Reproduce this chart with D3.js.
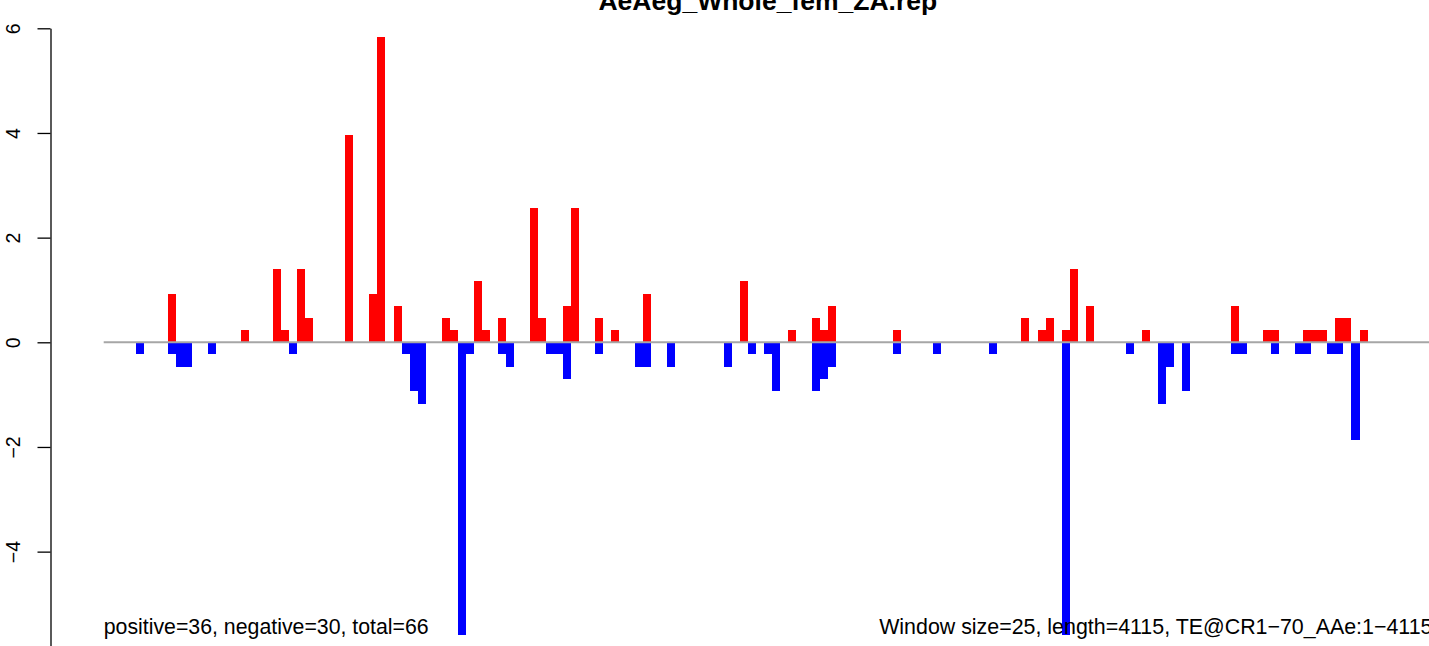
<!DOCTYPE html>
<html>
<head>
<meta charset="utf-8">
<script src="https://cdn.jsdelivr.net/npm/d3@7"></script>
<style>
  html, body { margin: 0; padding: 0; background: #fff; }
  svg { display: block; }
  text { font-family: "Liberation Sans", Arial, Helvetica, sans-serif; fill: #000; }
</style>
</head>
<body>
<svg id="chart" width="1429" height="646"></svg>
<script>
// ---- data ----
const title = "AeAeg_Whole_fem_ZA.rep";
const windowCount = 165;            // 4115 / 25
const yTicks = [-6, -4, -2, 0, 2, 4, 6];

// positive (red) windows: window index and value
const posIndex = [8, 17, 21, 22, 24, 25, 30, 33, 34, 36, 42, 43, 46, 47, 49, 53, 54, 57, 58, 61, 63, 67, 79, 85,
                  88, 89, 90, 98, 114, 116, 117, 119, 120, 122, 129, 140, 144, 145, 149, 150, 151, 153, 154, 156];
const posValue = [0.93, 0.23, 1.40, 0.23, 1.40, 0.47, 3.97, 0.93, 5.84, 0.70, 0.47, 0.23, 1.17, 0.23, 0.47, 2.57, 0.47, 0.70, 2.57, 0.47, 0.23, 0.93, 1.17, 0.23,
                  0.47, 0.23, 0.70, 0.23, 0.47, 0.23, 0.47, 0.23, 1.40, 0.70, 0.23, 0.70, 0.23, 0.23, 0.23, 0.23, 0.23, 0.47, 0.47, 0.23];

// negative (blue) windows: window index and value
const negIndex = [4, 8, 9, 10, 13, 23, 37, 38, 39, 44, 45, 49, 50, 55, 56, 57, 61, 66, 67, 70, 77, 80, 82, 83,
                  88, 89, 90, 98, 103, 110, 119, 127, 131, 132, 134, 140, 141, 145, 148, 149, 152, 153, 155];
const negValue = [-0.23, -0.23, -0.47, -0.47, -0.23, -0.23, -0.23, -0.93, -1.17, -5.60, -0.23, -0.23, -0.47, -0.23, -0.23, -0.70, -0.23, -0.47, -0.47, -0.47, -0.47, -0.23, -0.23, -0.93,
                  -0.93, -0.70, -0.47, -0.23, -0.23, -0.23, -5.60, -0.23, -1.17, -0.47, -0.93, -0.23, -0.23, -0.23, -0.23, -0.23, -0.23, -0.23, -1.87];

const leftNote = "positive=36, negative=30, total=66";
const rightNote = "Window size=25, length=4115, TE@CR1\u221270_AAe:1\u22124115";

// ---- drawing ----
const svg = d3.select("#chart");
const x = d3.scaleLinear().domain([0, windowCount]).range([103.7, 1431.95]);
const y = d3.scaleLinear().domain([-6, 6]).range([656.3, 28.3]);

const pos = posIndex.map((i, k) => ({ i, v: posValue[k] }));
const neg = negIndex.map((i, k) => ({ i, v: negValue[k] }));

svg.append("g").selectAll("rect").data(pos).join("rect")
  .attr("x", d => x(d.i))
  .attr("width", d => x(d.i + 1) - x(d.i))
  .attr("y", d => y(d.v))
  .attr("height", d => y(0) - y(d.v))
  .attr("fill", "#ff0000")
  .attr("shape-rendering", "crispEdges");

svg.append("g").selectAll("rect").data(neg).join("rect")
  .attr("x", d => x(d.i))
  .attr("width", d => x(d.i + 1) - x(d.i))
  .attr("y", y(0))
  .attr("height", d => y(d.v) - y(0))
  .attr("fill", "#0000ff")
  .attr("shape-rendering", "crispEdges");

// baseline
svg.append("line")
  .attr("x1", x(0)).attr("x2", 1429)
  .attr("y1", y(0)).attr("y2", y(0))
  .attr("stroke", "#a6a6a6").attr("stroke-width", 2);

// y axis
const yAxis = d3.axisLeft(y).tickValues(yTicks).tickSize(13).tickSizeOuter(0)
  .tickFormat(d => d < 0 ? "\u2212" + Math.abs(d) : String(d));
const ga = svg.append("g").attr("transform", "translate(50.5,0)").call(yAxis);
ga.select(".domain").attr("stroke", "#000").attr("stroke-width", 1.3);
ga.selectAll(".tick line").attr("stroke", "#000").attr("stroke-width", 1.3);
ga.selectAll(".tick text")
  .attr("x", null).attr("dy", null)
  .attr("transform", "translate(-30.5,0) rotate(-90)")
  .attr("text-anchor", "middle")
  .style("font-size", "19.5px")
  .style("font-family", "'Liberation Sans', Arial, sans-serif")
  .attr("fill", "#000");

// title
svg.append("text")
  .attr("x", (x(0) + x(windowCount)) / 2).attr("y", 10)
  .attr("text-anchor", "middle")
  .style("font-size", "26.5px").style("font-weight", "bold")
  .text(title);

// notes
svg.append("text").attr("x", x(0)).attr("y", 634)
  .style("font-size", "21.3px").text(leftNote);
svg.append("text").attr("x", x(windowCount) + 0.5).attr("y", 634)
  .attr("text-anchor", "end")
  .style("font-size", "21.4px").text(rightNote);
</script>
</body>
</html>
